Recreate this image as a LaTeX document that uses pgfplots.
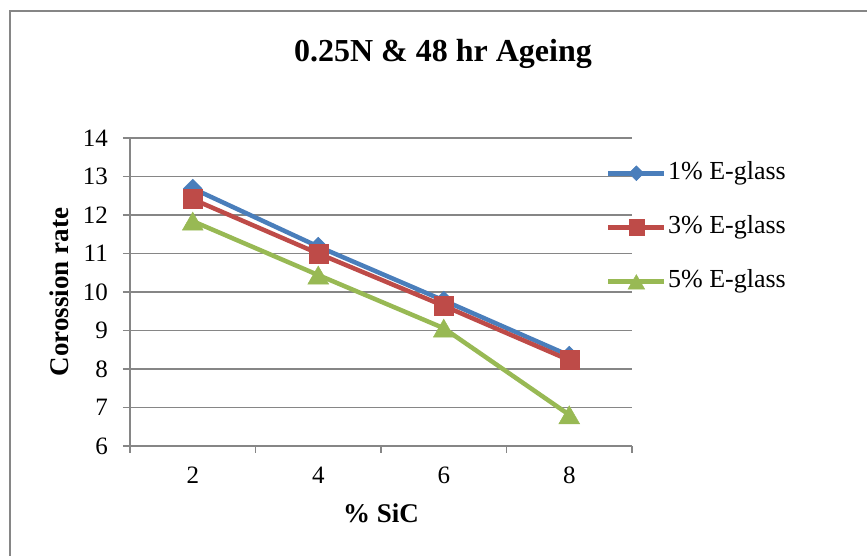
\documentclass[border=0pt]{standalone}
\usepackage{pgfplots}
\pgfplotsset{compat=1.18}
\usepackage{fontspec}
\setmainfont{Liberation Serif}
\definecolor{sblue}{HTML}{4A7EBB}
\definecolor{sred}{HTML}{BE4B48}
\definecolor{sgreen}{HTML}{98B954}
\definecolor{axgray}{HTML}{868686}
\begin{document}
\begin{tikzpicture}
\path[use as bounding box] (0,0) rectangle (867bp,556bp);
\draw[axgray, line width=1.5bp] (10bp,0) -- (10bp,545bp) -- (867bp,545bp);
\begin{axis}[
  at={(130bp,110bp)}, anchor=south west,
  scale only axis, width=502bp, height=308bp,
  xmin=0.5, xmax=4.5, ymin=6, ymax=14,
  axis x line*=bottom, axis y line*=left,
  axis line style={axgray, line width=1.5bp, -},
  xtick={1,2,3,4}, xticklabels={2,4,6,8},
  minor xtick={0.5,1.5,2.5,3.5,4.5},
  ytick={6,...,14},
  tick align=outside,
  major tick length=7bp, minor tick length=7bp,
  tick style={axgray, line width=1.5bp},
  major x tick style={draw=none},
  ymajorgrids,
  grid style={axgray, line width=1.4bp},
  /pgf/number format/assume math mode=true,
  tick label style={font=\fontsize{25bp}{30bp}\selectfont},
  yticklabel style={anchor=east, inner sep=0pt, xshift=-15bp},
  xticklabel style={anchor=north, inner sep=0pt, yshift=-14bp},
  title={\textbf{0.25N \& 48 hr Ageing}},
  title style={font=\fontsize{32bp}{38bp}\selectfont, at={(axis description cs:0.6235,1.23)}, anchor=base},
  xlabel={\textbf{\% SiC}},
  xlabel style={font=\fontsize{27bp}{32bp}\selectfont, at={(axis description cs:0.5,-0.25)}, anchor=base},
  ylabel={\textbf{Corossion rate}},
  ylabel style={font=\fontsize{27bp}{32bp}\selectfont, at={(axis description cs:-0.1235,0.5)}, anchor=base, rotate=0},
  legend style={at={(axis description cs:0.948,0.93)}, anchor=north west, draw=none, fill=none,
    font=\fontsize{26bp}{31bp}\selectfont, inner sep=0pt, row sep=27bp,
    nodes={inner sep=1.5bp, text height=18bp, text depth=6bp}},
  legend cell align=left,
  legend image code/.code={
    \draw[mark repeat=2,mark phase=2,#1,every mark/.append style={scale=0.8}] plot coordinates {(0bp,0bp) (28bp,0bp) (56bp,0bp)};
  },
]
\addplot[sblue, line width=4.5bp, mark=square*, mark size=6.6bp, mark options={solid, rotate=45, fill=sblue, draw=sblue, line width=0.5bp}]
  coordinates {(1,12.69) (2,11.18) (3,9.78) (4,8.35)};
\addlegendentry{1\% E-glass}
\addplot[sred, line width=4.5bp, mark=square*, mark size=9.5bp, mark options={solid, fill=sred, draw=sred, line width=0.5bp}]
  coordinates {(1,12.41) (2,11.00) (3,9.64) (4,8.23)};
\addlegendentry{3\% E-glass}
\addplot[sgreen, line width=4.5bp, mark=triangle*, mark size=12bp, mark options={solid, fill=sgreen, draw=sgreen, line width=0.5bp, yshift=-3bp}]
  coordinates {(1,11.84) (2,10.44) (3,9.06) (4,6.81)};
\addlegendentry{5\% E-glass}
\end{axis}
\end{tikzpicture}
\end{document}
